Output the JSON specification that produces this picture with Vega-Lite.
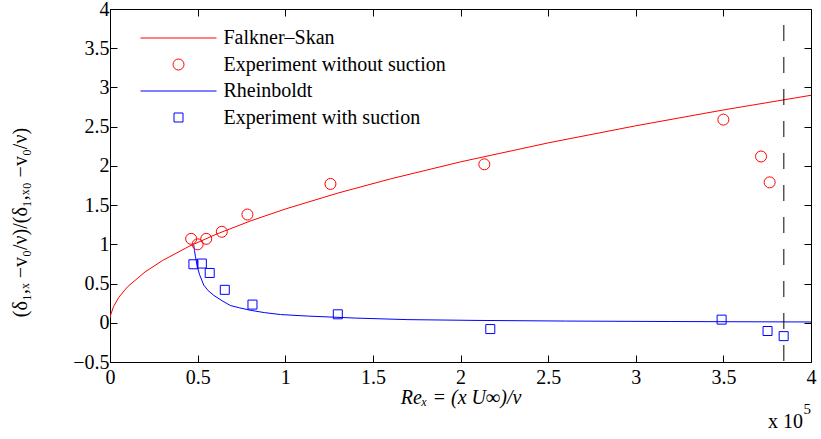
{
  "$schema": "https://vega.github.io/schema/vega-lite/v6.json",
  "width": 701,
  "height": 353,
  "autosize": {"type": "none"},
  "padding": {"left": 110, "top": 9, "right": 10, "bottom": 77},
  "background": "white",
  "config": {
    "view": {"stroke": "black", "strokeWidth": 1},
    "font": "Liberation Serif",
    "axis": {
      "grid": false,
      "domain": false,
      "tickSize": -7,
      "tickColor": "black",
      "tickWidth": 1,
      "labelColor": "black",
      "labelFont": "Liberation Serif",
      "labelFontSize": 20,
      "labelFlush": false,
      "titleFont": "Liberation Serif",
      "titleFontSize": 20,
      "titleFontWeight": "normal",
      "titleColor": "black"
    }
  },
  "data": {
    "values": [
      {"series": "Falkner–Skan", "x": 0, "y": 0.06},
      {"series": "Falkner–Skan", "x": 0.005, "y": 0.11},
      {"series": "Falkner–Skan", "x": 0.02, "y": 0.205},
      {"series": "Falkner–Skan", "x": 0.05, "y": 0.324},
      {"series": "Falkner–Skan", "x": 0.1, "y": 0.459},
      {"series": "Falkner–Skan", "x": 0.2, "y": 0.648},
      {"series": "Falkner–Skan", "x": 0.3, "y": 0.794},
      {"series": "Falkner–Skan", "x": 0.45, "y": 0.973},
      {"series": "Falkner–Skan", "x": 0.6, "y": 1.123},
      {"series": "Falkner–Skan", "x": 0.8, "y": 1.297},
      {"series": "Falkner–Skan", "x": 1.0, "y": 1.45},
      {"series": "Falkner–Skan", "x": 1.3, "y": 1.653},
      {"series": "Falkner–Skan", "x": 1.6, "y": 1.834},
      {"series": "Falkner–Skan", "x": 2.0, "y": 2.051},
      {"series": "Falkner–Skan", "x": 2.5, "y": 2.293},
      {"series": "Falkner–Skan", "x": 3.0, "y": 2.511},
      {"series": "Falkner–Skan", "x": 3.5, "y": 2.713},
      {"series": "Falkner–Skan", "x": 4.0, "y": 2.9},
      {"series": "Experiment without suction", "x": 0.463, "y": 1.07},
      {"series": "Experiment without suction", "x": 0.50, "y": 1.0},
      {"series": "Experiment without suction", "x": 0.549, "y": 1.07},
      {"series": "Experiment without suction", "x": 0.638, "y": 1.16},
      {"series": "Experiment without suction", "x": 0.784, "y": 1.38},
      {"series": "Experiment without suction", "x": 1.258, "y": 1.77},
      {"series": "Experiment without suction", "x": 2.136, "y": 2.02},
      {"series": "Experiment without suction", "x": 3.5, "y": 2.59},
      {"series": "Experiment without suction", "x": 3.715, "y": 2.12},
      {"series": "Experiment without suction", "x": 3.764, "y": 1.79},
      {"series": "Rheinboldt", "x": 0.478, "y": 0.99},
      {"series": "Rheinboldt", "x": 0.482, "y": 0.92},
      {"series": "Rheinboldt", "x": 0.488, "y": 0.84},
      {"series": "Rheinboldt", "x": 0.497, "y": 0.73},
      {"series": "Rheinboldt", "x": 0.51, "y": 0.62},
      {"series": "Rheinboldt", "x": 0.535, "y": 0.48},
      {"series": "Rheinboldt", "x": 0.56, "y": 0.41},
      {"series": "Rheinboldt", "x": 0.592, "y": 0.35},
      {"series": "Rheinboldt", "x": 0.64, "y": 0.28},
      {"series": "Rheinboldt", "x": 0.687, "y": 0.22},
      {"series": "Rheinboldt", "x": 0.74, "y": 0.19},
      {"series": "Rheinboldt", "x": 0.80, "y": 0.16},
      {"series": "Rheinboldt", "x": 0.88, "y": 0.13},
      {"series": "Rheinboldt", "x": 0.973, "y": 0.105},
      {"series": "Rheinboldt", "x": 1.132, "y": 0.085},
      {"series": "Rheinboldt", "x": 1.4, "y": 0.06},
      {"series": "Rheinboldt", "x": 1.7, "y": 0.04},
      {"series": "Rheinboldt", "x": 2.1, "y": 0.03},
      {"series": "Rheinboldt", "x": 2.6, "y": 0.022},
      {"series": "Rheinboldt", "x": 3.2, "y": 0.016},
      {"series": "Rheinboldt", "x": 4.0, "y": 0.01},
      {"series": "Experiment with suction", "x": 0.476, "y": 0.746},
      {"series": "Experiment with suction", "x": 0.524, "y": 0.755},
      {"series": "Experiment with suction", "x": 0.569, "y": 0.635},
      {"series": "Experiment with suction", "x": 0.655, "y": 0.42},
      {"series": "Experiment with suction", "x": 0.813, "y": 0.232},
      {"series": "Experiment with suction", "x": 1.30, "y": 0.108},
      {"series": "Experiment with suction", "x": 2.17, "y": -0.08},
      {"series": "Experiment with suction", "x": 3.49, "y": 0.04},
      {"series": "Experiment with suction", "x": 3.752, "y": -0.105},
      {"series": "Experiment with suction", "x": 3.844, "y": -0.17}
    ]
  },
  "resolve": {"axis": {"x": "independent", "y": "independent"}},
  "layer": [
    {
      "transform": [{"filter": {"field": "series", "oneOf": ["Falkner–Skan", "Rheinboldt"]}}],
      "mark": {"type": "line", "strokeWidth": 1, "clip": true},
      "encoding": {
        "x": {"field": "x", "type": "quantitative",
              "scale": {"domain": [0, 4], "nice": false, "zero": false},
              "axis": {"orient": "bottom", "values": [0, 0.5, 1, 1.5, 2, 2.5, 3, 3.5, 4], "format": "~g",
                       "labelPadding": 12, "labelFlush": false, "title": "Reₓ = (x U∞)/ν", "titleFontStyle": "italic", "titlePadding": 0}},
        "y": {"field": "y", "type": "quantitative",
              "scale": {"domain": [-0.5, 4], "nice": false, "zero": false},
              "axis": {"orient": "left", "values": [-0.5, 0, 0.5, 1, 1.5, 2, 2.5, 3, 3.5, 4], "format": "~g",
                       "labelPadding": 8, "labelFlush": false, "title": "(δ₁,ₓ −v₀/ν)/(δ₁,ₓ₀ −v₀/ν)", "titleX": -80, "titleY": 213}},
        "color": {"field": "series", "type": "nominal",
                  "scale": {"domain": ["Falkner–Skan", "Experiment without suction", "Rheinboldt", "Experiment with suction"],
                            "range": ["#ff0000", "#ff0000", "#0000ff", "#0000ff"]},
                  "legend": {"title": null, "orient": "none", "legendX": 58.5, "legendY": 19, "padding": 0,
                             "labelFont": "Liberation Serif", "labelFontSize": 20, "labelColor": "black", "labelLimit": 400,
                             "labelOffset": 35, "rowPadding": 6.5, "symbolStrokeWidth": 1}},
        "detail": {"field": "series"}
      }
    },
    {
      "transform": [{"filter": {"field": "series", "oneOf": ["Experiment without suction", "Experiment with suction"]}}],
      "mark": {"type": "point", "filled": false, "strokeWidth": 1, "opacity": 1},
      "encoding": {
        "x": {"field": "x", "type": "quantitative",
              "axis": {"orient": "top", "values": [0, 0.5, 1, 1.5, 2, 2.5, 3, 3.5, 4], "labels": false, "title": null}},
        "y": {"field": "y", "type": "quantitative",
              "axis": {"orient": "right", "values": [-0.5, 0, 0.5, 1, 1.5, 2, 2.5, 3, 3.5, 4], "labels": false, "title": null}},
        "color": {"field": "series", "type": "nominal"},
        "shape": {"field": "series", "type": "nominal",
                  "scale": {"domain": ["Falkner–Skan", "Experiment without suction", "Rheinboldt", "Experiment with suction"],
                            "range": ["M-19,0H19", "circle", "M-19,0H19", "square"]}},
        "size": {"field": "series", "type": "nominal",
                 "scale": {"type": "ordinal", "domain": ["Falkner–Skan", "Experiment without suction", "Rheinboldt", "Experiment with suction"],
                           "range": [16, 121, 16, 81]}}
      }
    },
    {
      "data": {"values": [{"x": 3.845}]},
      "mark": {"type": "rule", "color": "black", "strokeWidth": 1, "strokeDash": [16, 16], "strokeDashOffset": 16},
      "encoding": {"x": {"field": "x", "type": "quantitative", "axis": null}}
    },
    {
      "data": {"values": [{"x": 4, "y": -0.5, "label": "x 10"}]},
      "mark": {"type": "text", "font": "Liberation Serif", "fontSize": 20, "align": "right", "baseline": "alphabetic", "dx": -8, "dy": 66, "color": "black"},
      "encoding": {
        "x": {"field": "x", "type": "quantitative", "axis": null},
        "y": {"field": "y", "type": "quantitative", "axis": null},
        "text": {"field": "label"}
      }
    },
    {
      "data": {"values": [{"x": 4, "y": -0.5, "label": "5"}]},
      "mark": {"type": "text", "font": "Liberation Serif", "fontSize": 15, "align": "right", "baseline": "alphabetic", "dx": 0, "dy": 52, "color": "black"},
      "encoding": {
        "x": {"field": "x", "type": "quantitative", "axis": null},
        "y": {"field": "y", "type": "quantitative", "axis": null},
        "text": {"field": "label"}
      }
    }
  ]
}
